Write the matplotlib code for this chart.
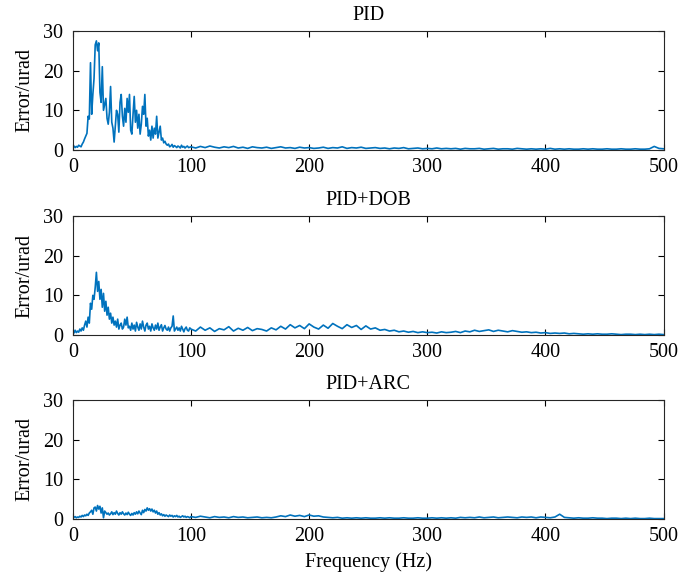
import numpy as np
import matplotlib
matplotlib.use('Agg')
import matplotlib.pyplot as plt

plt.rcParams['font.family'] = ['Liberation Serif', 'DejaVu Serif']

titles = ['PID', 'PID+DOB', 'PID+ARC']

# low band 0-99 Hz at 1 Hz, tail 100-500 Hz at 4 Hz
f_low = np.arange(0, 100, 1)
f_tail = np.arange(100, 501, 4)

pid_low = [
    0.5, 1.0, 0.6, 0.9, 0.7, 1.2, 1.0, 0.8, 1.5, 2.0,
    2.8, 3.5, 4.2, 8.5, 7.8, 22.0, 9.0, 14.0, 18.0, 26.5,
    27.5, 25.0, 27.0, 14.5, 12.0, 21.0, 10.0, 11.5, 13.0, 8.0,
    6.5, 9.5, 16.0, 7.0, 5.5, 2.0, 6.0, 10.0, 9.0, 4.5,
    12.0, 14.0, 8.5, 6.0, 10.5, 7.0, 13.0, 9.5, 14.0, 5.0,
    4.0, 9.0, 13.5, 7.0, 10.0, 5.5, 9.0, 4.0, 6.5, 11.0,
    9.0, 14.0, 6.0, 8.0, 3.5, 5.0, 2.5, 6.0, 3.0, 5.5,
    4.0, 8.5, 3.0, 4.5, 6.0, 2.5, 3.0, 1.8, 2.2, 1.5,
    1.2, 1.5, 0.8, 1.0, 1.4, 0.7, 1.1, 0.9, 0.6, 1.0,
    0.8, 0.5, 1.2, 0.7, 0.9, 0.5, 0.8, 1.0, 0.6, 0.7,
]
pid_tail = [
    0.8, 0.5, 0.9, 0.6, 1.0, 0.7, 0.5, 0.8, 0.6, 0.9,
    0.5, 0.7, 0.4, 0.8, 0.6, 0.5, 0.7, 0.4, 0.6, 0.8,
    0.5, 0.6, 0.4, 0.7, 0.5, 0.6, 0.4, 0.5, 0.7, 0.4,
    0.6, 0.5, 0.8, 0.4, 0.6, 0.5, 0.7, 0.4, 0.5, 0.6,
    0.4, 0.5, 0.3, 0.5, 0.4, 0.6, 0.3, 0.4, 0.5, 0.3,
    0.4, 0.3, 0.5, 0.3, 0.4, 0.3, 0.4, 0.2, 0.4, 0.3,
    0.3, 0.4, 0.2, 0.3, 0.4, 0.2, 0.3, 0.3, 0.2, 0.4,
    0.3, 0.2, 0.3, 0.2, 0.3, 0.2, 0.4, 0.2, 0.3, 0.2,
    0.3, 0.2, 0.2, 0.3, 0.2, 0.3, 0.2, 0.2, 0.3, 0.2,
    0.2, 0.3, 0.2, 0.2, 0.3, 0.2, 0.2, 0.3, 0.9, 0.4,
    0.3,
]

dob_low = [
    0.8, 0.5, 1.2, 0.6, 1.0, 0.7, 1.5, 1.0, 1.8, 1.2,
    2.5, 3.5, 2.0, 4.5, 3.0, 8.0, 6.5, 10.0, 9.0, 12.0,
    15.8, 11.0, 13.5, 9.0, 11.5, 7.0, 10.5, 6.0, 8.5, 5.0,
    7.0, 4.0, 5.5, 3.0, 4.5, 2.5, 3.5, 2.0, 4.0, 1.5,
    2.5, 3.0, 1.5, 2.0, 4.0, 2.5, 4.5, 1.8, 2.2, 1.2,
    3.0, 1.5, 2.5, 1.0, 3.2, 2.0, 1.2, 2.8, 1.5, 3.5,
    2.0, 1.0, 2.5, 3.0, 1.5, 2.2, 1.0, 2.8, 1.8, 1.2,
    2.5, 1.5, 3.0, 1.2, 2.0, 2.6, 1.0, 1.8, 2.4, 1.5,
    1.2, 2.0, 1.0, 1.8, 2.2, 4.8, 1.0, 1.5, 2.0, 1.2,
    1.8, 1.0, 2.2, 1.5, 0.8, 1.6, 2.0, 1.2, 1.0, 1.8,
]
dob_tail = [
    1.5, 1.0, 2.0, 1.2, 1.8, 0.9, 1.6, 1.3, 2.1, 1.0,
    1.7, 1.2, 1.9, 1.1, 1.6, 1.4, 1.0, 1.8, 1.3, 2.2,
    1.5, 2.6, 1.8, 2.4, 1.6, 2.8, 2.0, 1.5, 2.5, 1.7,
    2.9, 2.2, 1.6, 2.6, 1.9, 2.4, 1.4, 2.3, 1.5, 1.8,
    1.2, 1.4, 1.0, 1.2, 0.8, 1.0, 0.7, 0.9, 0.6, 0.8,
    0.6, 0.7, 0.5, 0.8, 0.6, 0.7, 0.9, 0.6, 1.0, 0.8,
    1.2, 0.9, 1.1, 1.3, 0.9, 1.2, 1.0, 0.8, 1.1, 0.9,
    0.7, 0.8, 0.6, 0.7, 0.5, 0.6, 0.4, 0.5, 0.4, 0.5,
    0.3, 0.4, 0.3, 0.2, 0.3, 0.2, 0.3, 0.2, 0.2, 0.3,
    0.2, 0.1, 0.2, 0.2, 0.1, 0.2, 0.1, 0.2, 0.1, 0.2,
    0.1,
]

arc_low = [
    0.8, 0.4, 0.6, 0.3, 0.5, 0.4, 0.7, 0.5, 0.9, 0.6,
    1.0, 0.8, 1.2, 0.9, 1.5, 1.8, 2.2, 1.2, 2.8, 3.0,
    2.0, 3.4, 2.5, 3.2, 1.5, 2.8, 0.3, 2.0, 1.6, 1.2,
    1.5, 1.0, 1.3, 1.8, 1.1, 1.6, 1.2, 2.0, 1.4, 1.0,
    1.6, 1.2, 1.8, 1.3, 1.0, 1.5, 1.1, 1.7, 1.2, 0.9,
    1.4, 1.0, 1.6, 1.2, 1.8, 1.3, 2.0, 1.5, 1.1, 2.2,
    1.6, 2.4, 2.0, 2.8, 2.2, 2.6, 2.0, 2.5, 1.8, 2.2,
    1.5, 2.0, 1.2, 1.6, 1.0, 1.3, 0.8, 1.1, 0.7, 1.0,
    0.8, 0.6, 1.0, 0.7, 0.9, 0.5, 0.8, 0.6, 0.9, 0.5,
    0.7, 0.4, 0.6, 0.8, 0.5, 0.7, 0.4, 0.6, 0.5, 0.3,
]
arc_tail = [
    0.6, 0.4, 0.7, 0.5, 0.3, 0.6, 0.4, 0.5, 0.3, 0.6,
    0.4, 0.5, 0.3, 0.4, 0.5, 0.3, 0.4, 0.3, 0.5, 0.8,
    0.6, 1.0, 0.7, 0.9, 0.6, 1.0, 0.7, 0.8, 0.5, 0.4,
    0.3, 0.4, 0.2, 0.3, 0.2, 0.3, 0.2, 0.3, 0.2, 0.2,
    0.3, 0.2, 0.3, 0.2, 0.2, 0.3, 0.2, 0.2, 0.3, 0.2,
    0.2, 0.3, 0.2, 0.3, 0.2, 0.3, 0.2, 0.4, 0.3, 0.4,
    0.3, 0.5, 0.3, 0.4, 0.5, 0.3, 0.4, 0.5, 0.4, 0.3,
    0.5, 0.4, 0.5, 0.3, 0.5, 0.4, 0.3, 0.5, 1.2, 0.4,
    0.3, 0.2, 0.3, 0.2, 0.2, 0.3, 0.2, 0.2, 0.1, 0.2,
    0.2, 0.1, 0.2, 0.1, 0.2, 0.1, 0.1, 0.2, 0.1, 0.1,
    0.1,
]

series = [pid_low + pid_tail, dob_low + dob_tail, arc_low + arc_tail]
freqs = np.concatenate([f_low, f_tail])

fig = plt.figure(figsize=(6.8, 5.8), dpi=100)
bottoms = [0.7414, 0.4224, 0.1052]

for title, vals, b in zip(titles, series, bottoms):
    ax = fig.add_axes([0.107, b, 0.869, 0.2052])
    ax.plot(freqs, vals, color='#0072BD', lw=1.2)
    ax.set_xlim(0, 500)
    ax.set_ylim(0, 30)
    ax.set_xticks([0, 100, 200, 300, 400, 500])
    ax.set_yticks([0, 10, 20, 30])
    ax.tick_params(direction='in', top=True, right=True, length=4,
                   labelsize=14.5, width=0.8)
    ax.tick_params(axis='y', pad=7)
    ax.tick_params(axis='x', pad=6)
    for s in ax.spines.values():
        s.set_linewidth(0.8)
        s.set_color('#262626')
    ax.set_title(title, fontsize=14.5, pad=8)
    ax.set_ylabel('Error/urad', fontsize=14.5, labelpad=6)

ax.set_xlabel('Frequency (Hz)', fontsize=14.5, labelpad=4)

fig.savefig('out.png', dpi=100)
